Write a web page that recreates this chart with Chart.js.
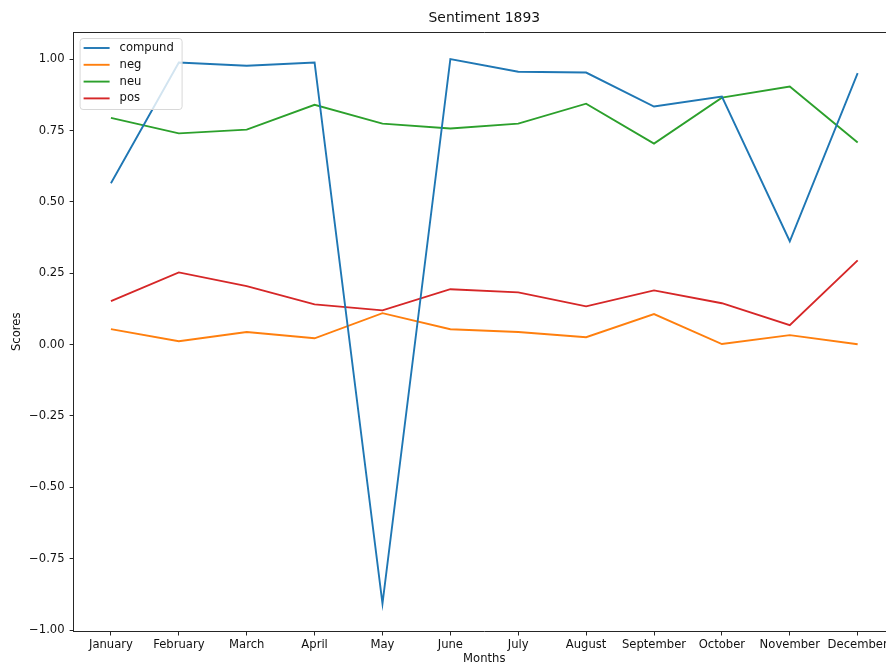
<!DOCTYPE html>
<html>
<head>
<meta charset="utf-8">
<script src="https://cdn.jsdelivr.net/npm/chart.js@4/dist/chart.umd.min.js"></script>
<style>
  html, body { margin: 0; padding: 0; background: #fff; overflow: hidden; }
  #wrap { position: relative; width: 910px; height: 666px; }
</style>
</head>
<body>
<div id="wrap"><canvas id="c" width="910" height="666"></canvas></div>
<script>
const months = ["January", "February", "March", "April", "May", "June", "July",
  "August", "September", "October", "November", "December"];
const compound = [0.565, 0.988, 0.977, 0.988, -0.907, 1.0, 0.956, 0.953, 0.834, 0.869, 0.362, 0.951];
const neg = [0.054, 0.012, 0.044, 0.022, 0.110, 0.054, 0.044, 0.026, 0.107, 0.002, 0.033, 0.001];
const neu = [0.794, 0.740, 0.753, 0.840, 0.774, 0.757, 0.774, 0.844, 0.704, 0.865, 0.904, 0.708];
const pos = [0.152, 0.253, 0.205, 0.141, 0.120, 0.194, 0.183, 0.134, 0.190, 0.145, 0.068, 0.295];
const yTickValues = [-1.0, -0.75, -0.5, -0.25, 0.0, 0.25, 0.5, 0.75, 1.0];

const FONT = "'DejaVu Sans', sans-serif";
const AXIS = "#262626";

function series(label, values, color) {
  return {
    label,
    data: values.map((v, i) => ({ x: i, y: v })),
    borderColor: color,
    backgroundColor: color,
    borderWidth: 1.9,
    pointRadius: 0,
    tension: 0,
    fill: false
  };
}

// Title, top spine and an in-plot legend box
const decorations = {
  id: 'decorations',
  afterDraw(chart) {
    const { ctx, chartArea: a } = chart;
    ctx.save();
    // top spine
    ctx.strokeStyle = AXIS;
    ctx.lineWidth = 1;
    ctx.beginPath();
    ctx.moveTo(a.left, a.top + 0.5);
    ctx.lineTo(a.right, a.top + 0.5);
    ctx.stroke();

    // title
    ctx.fillStyle = "#111";
    ctx.font = "13.9px " + FONT;
    ctx.textAlign = "center";
    ctx.textBaseline = "middle";
    ctx.fillText("Sentiment 1893", (a.left + a.right) / 2, 18);

    // legend
    const x0 = a.left + 6, y0 = a.top + 6, w = 102, h = 71, r = 3;
    ctx.fillStyle = "rgba(255,255,255,0.8)";
    ctx.strokeStyle = "#d8d8d8";
    ctx.lineWidth = 1;
    ctx.beginPath();
    ctx.roundRect(x0 + 0.5, y0 + 0.5, w, h, r);
    ctx.fill();
    ctx.stroke();
    ctx.font = "11.6px " + FONT;
    ctx.textAlign = "left";
    ctx.textBaseline = "middle";
    chart.data.datasets.forEach((ds, i) => {
      const y = y0 + 10 + i * 16.8;
      ctx.strokeStyle = ds.borderColor;
      ctx.lineWidth = 1.9;
      ctx.beginPath();
      ctx.moveTo(x0 + 4, y);
      ctx.lineTo(x0 + 30, y);
      ctx.stroke();
      ctx.fillStyle = "#111";
      ctx.fillText(ds.label, x0 + 40, y);
    });
    ctx.restore();
  }
};

new Chart(document.getElementById('c'), {
  type: 'line',
  data: {
    datasets: [
      series('compund', compound, '#1f77b4'),
      series('neg', neg, '#ff7f0e'),
      series('neu', neu, '#2ca02c'),
      series('pos', pos, '#d62728')
    ]
  },
  options: {
    responsive: false,
    animation: false,
    events: [],
    layout: { padding: { left: 0, top: 32, right: 15, bottom: 0 } },
    plugins: { legend: { display: false }, title: { display: false }, tooltip: { enabled: false } },
    scales: {
      x: {
        type: 'linear',
        min: -0.55,
        max: 11.55,
        afterBuildTicks(scale) { scale.ticks = months.map((m, i) => ({ value: i })); },
        afterFit(scale) { scale.height = 34.5; },
        ticks: {
          autoSkip: false,
          maxRotation: 0,
          padding: 3,
          color: "#111",
          font: { family: FONT, size: 11.6 },
          callback: (v) => months[v]
        },
        grid: { drawOnChartArea: false, drawTicks: true, tickLength: 4, tickColor: AXIS, tickWidth: 1 },
        border: { display: true, color: AXIS, width: 1 },
        title: { display: true, text: 'Months', color: "#111", font: { family: FONT, size: 11.6 }, padding: { top: 0, bottom: 0 } }
      },
      y: {
        type: 'linear',
        min: -1.005,
        max: 1.095,
        afterBuildTicks(scale) { scale.ticks = yTickValues.map(v => ({ value: v })); },
        afterFit(scale) { scale.width = 73.6; },
        ticks: {
          padding: 5,
          color: "#111",
          font: { family: FONT, size: 11.6 },
          callback: (v) => v.toFixed(2).replace('-', '\u2212')
        },
        grid: { drawOnChartArea: false, drawTicks: true, tickLength: 4, tickColor: AXIS, tickWidth: 1 },
        border: { display: true, color: AXIS, width: 1 },
        title: { display: true, text: 'Scores', color: "#111", font: { family: FONT, size: 11.6 }, padding: { top: 10, bottom: 0 } }
      }
    }
  },
  plugins: [decorations]
});
</script>
</body>
</html>
